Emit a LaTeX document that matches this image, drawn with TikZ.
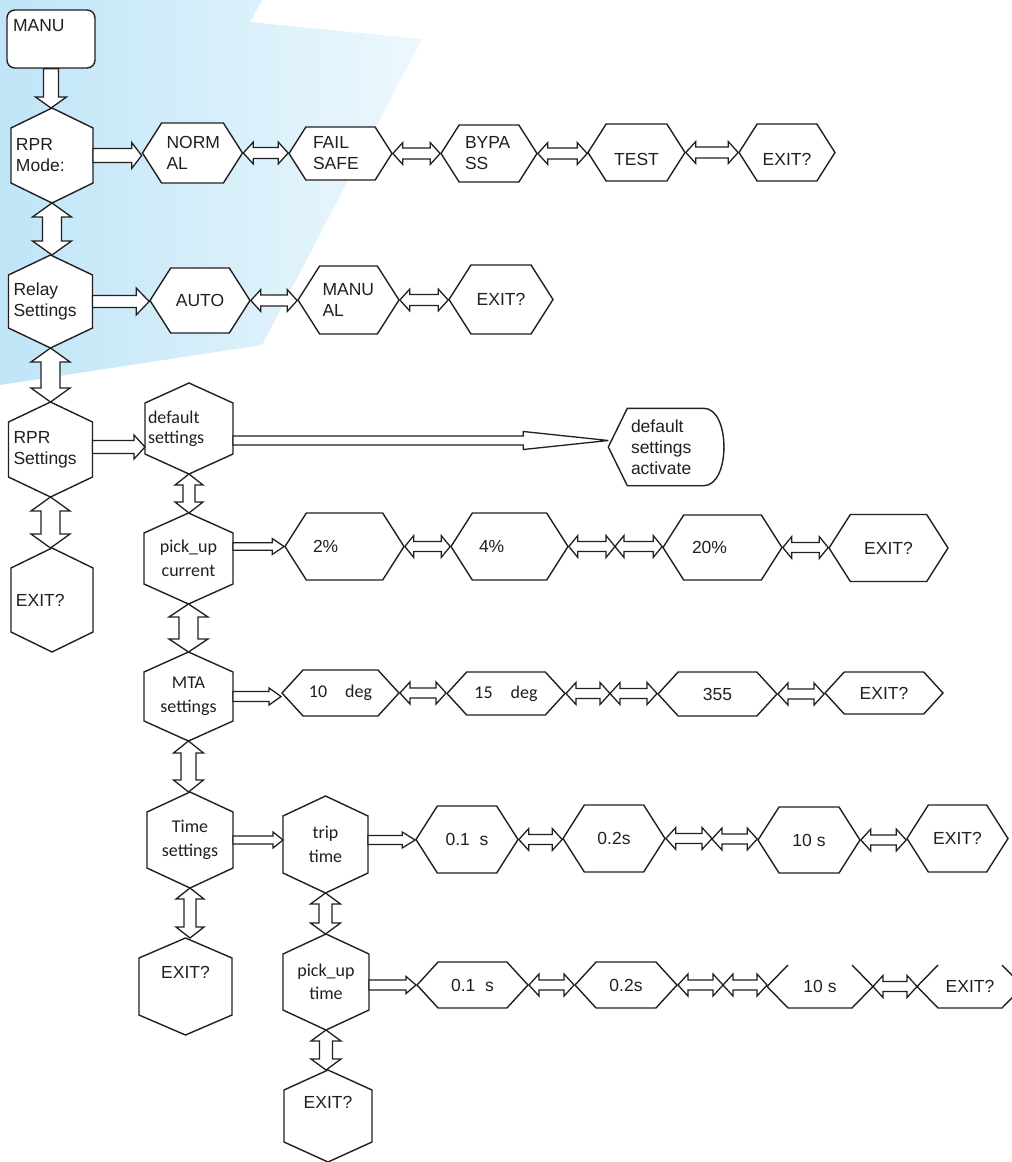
\documentclass[tikz,border=0pt]{standalone}
\usepackage{fontspec}
\setmainfont{Liberation Sans}
\newfontfamily\calibri[Numbers=Lining]{Carlito}
\usepackage{tikz}
\usetikzlibrary{shapes.symbols}
\usetikzlibrary{calc}
\usetikzlibrary{positioning}

\definecolor{inkc}{HTML}{231F20}
\definecolor{skyA}{HTML}{BFE5F7}
\definecolor{skyB}{HTML}{EDF8FD}

% upright hexagon: [options]{name}{x}{y}{width}{height}{text}
\newcommand{\vhex}[7][]{%
  \filldraw[rim, fill=white] (#3,#4-#6/2) -- (#3+#5/2,#4-#6/2+20) -- (#3+#5/2,#4+#6/2-20)
    -- (#3,#4+#6/2) -- (#3-#5/2,#4+#6/2-20) -- (#3-#5/2,#4-#6/2+20) -- cycle;
  \node[vbox, minimum width=#5, minimum height=#6, #1] (#2) at (#3,#4) {#7};}

% block arrows (shaft half width, head half width, head length)
\newcommand{\rarrow}[5]{%
  \draw[conn] let \p1=(#1), \p2=(#2) in
    (\x1,\y1+#3pt) -- (\x2-#5pt,\y1+#3pt) -- (\x2-#5pt,\y1+#4pt) -- (\x2,\y1)
    -- (\x2-#5pt,\y1-#4pt) -- (\x2-#5pt,\y1-#3pt) -- (\x1,\y1-#3pt) -- cycle;}
\newcommand{\harrow}[5]{%
  \draw[conn] let \p1=(#1), \p2=(#2) in
    (\x1,\y1) -- (\x1+#5pt,\y1+#4pt) -- (\x1+#5pt,\y1+#3pt) -- (\x2-#5pt,\y1+#3pt)
    -- (\x2-#5pt,\y1+#4pt) -- (\x2,\y1) -- (\x2-#5pt,\y1-#4pt) -- (\x2-#5pt,\y1-#3pt)
    -- (\x1+#5pt,\y1-#3pt) -- (\x1+#5pt,\y1-#4pt) -- cycle;}
\newcommand{\varrow}[5]{%
  \draw[conn] let \p1=(#1), \p2=(#2) in
    (\x1,\y1) -- (\x1+#4pt,\y1-#5pt) -- (\x1+#3pt,\y1-#5pt) -- (\x1+#3pt,\y2+#5pt)
    -- (\x1+#4pt,\y2+#5pt) -- (\x1,\y2) -- (\x1-#4pt,\y2+#5pt) -- (\x1-#3pt,\y2+#5pt)
    -- (\x1-#3pt,\y1-#5pt) -- (\x1-#4pt,\y1-#5pt) -- cycle;}
\newcommand{\darrow}[5]{%
  \draw[conn] let \p1=(#1), \p2=(#2) in
    (\x1-#3pt,\y1) -- (\x1+#3pt,\y1) -- (\x1+#3pt,\y2+#5pt) -- (\x1+#4pt,\y2+#5pt)
    -- (\x1,\y2) -- (\x1-#4pt,\y2+#5pt) -- (\x1-#3pt,\y2+#5pt) -- cycle;}

\begin{document}
\begin{tikzpicture}[x=1pt, y=-1pt,
    base/.style={draw=inkc, line width=1.4pt, fill=white, inner sep=2pt, text=inkc,
      font=\fontsize{17.5}{21}\selectfont},
    hexh/.style 2 args={base, signal, signal to=west and east,
      signal pointer angle=115, minimum width=#1, minimum height=#2},
    vbox/.style={base, rectangle, draw=none, fill=none, outer sep=0pt},
    flat/.style={signal pointer angle=95},
    low/.style={text height=26pt, text depth=0pt},
    cal/.style={font=\calibri\fontsize{18}{23.5}\selectfont},
    lft/.style={text width=#1, align=left},
    conn/.style={draw=inkc, line width=1.3pt, fill=white, line join=miter, miter limit=4},
    rim/.style={draw=inkc, line width=1.4pt, line join=miter}
  ]
  \useasboundingbox (0,0) rectangle (1012,1162);

  % background
  \shade[left color=skyA, right color=skyB] (0,0) -- (262,0) -- (250,22) -- (422,39)
    -- (262,345) -- (0,385) -- cycle;

  % menu column
  \node[base, rectangle, rounded corners=8pt, minimum width=88, minimum height=58, lft=76] (manu) at (51,39) {MANU\\\strut};
  \vhex[lft=72]{rprm}{52}{155.5}{82}{95}{RPR\\Mode:}
  \vhex[lft=74]{rely}{50.5}{301.5}{84}{93}{Relay\\Settings}
  \vhex[lft=74]{rprs}{50.5}{449.5}{84}{95}{RPR\\Settings}
  \vhex[lft=72]{exa}{52}{600}{82}{104}{EXIT?}

  % settings column
  \vhex[lft=82, font=\calibri\fontsize{18}{20}\selectfont]{dflt}{189}{428.5}{88}{91}{default\\settings}
  \vhex[cal, align=center]{pcur}{188.5}{558.5}{89}{91}{pick\_up\\current}
  \vhex[cal, align=center]{mta}{188.5}{696.5}{89}{89}{MTA\\settings}
  \vhex[cal, align=center]{tset}{190}{840}{86}{96}{Time\\settings}
  \vhex[align=center]{exb}{185.5}{986.5}{93}{97}{EXIT?\\\strut}

  % time column
  \vhex[cal, align=center]{trip}{325.5}{844.5}{85}{97}{trip\\time}
  \vhex[cal, align=center]{ptim}{326}{982}{86}{96}{pick\_up\\time}
  \vhex[align=center]{exc}{328}{1116}{88}{92}{EXIT?\\\strut}

  % RPR mode options
  \node[hexh={100}{60}, lft=52] (norm) at (192.5,153) {NORM\\AL};
  \node[hexh={103}{53}, lft=55] (fail) at (340.5,153.5) {FAIL\\SAFE};
  \node[hexh={96}{57}, lft=48] (bypa) at (489,153.5) {BYPA\\SS};
  \node[hexh={97}{57}, low] (test) at (636.5,152.5) {TEST};
  \node[hexh={96}{57}, low] (exm) at (787,152.5) {EXIT?};

  % relay options
  \node[hexh={100}{65}] (auto) at (200,300.5) {AUTO};
  \node[hexh={101}{68}, lft=52] (manl) at (348.5,300) {MANU\\AL};
  \node[hexh={104}{69}] (exr) at (501,299.5) {EXIT?};

  % default settings
  \node[base, rectangle, draw=none, fill=none, minimum width=114, minimum height=76, lft=70] (act) at (666,447) {default\\settings\\activate};
  \draw[rim] (act.west) -- ($(act.north west)+(19,0)$) -- ($(act.north east)+(-20,0)$)
    .. controls ($(act.north east)+(7,0)$) and ($(act.south east)+(7,0)$) .. ($(act.south east)+(-20,0)$)
    -- ($(act.south west)+(19,0)$) -- cycle;

  % pick up current
  \node[hexh={119}{67}, lft=63] (p2) at (344.5,546.5) {2\%};
  \node[hexh={117}{67}, lft=61] (p4) at (509.5,546.5) {4\%};
  \node[hexh={119}{65}, lft=61] (p20) at (722.5,547.5) {20\%};
  \node[hexh={119}{67}] (pex) at (888.5,548) {EXIT?};
  \coordinate (pmid) at (615,546.5);

  % MTA
  \node[hexh={117}{46}, flat, cal] (d10) at (340.5,693) {10\quad deg};
  \node[hexh={118}{43}, flat, cal] (d15) at (506,693.5) {15\quad deg};
  \node[hexh={119}{44}, flat] (d355) at (717.5,694) {355};
  \node[hexh={118}{42}, flat] (dex) at (884,693) {EXIT?};
  \coordinate (dmid) at (610,693.5);

  % trip time
  \node[hexh={102}{67}] (t01) at (467,839.5) {0.1~~s};
  \node[hexh={102}{67}] (t02) at (614,838.5) {0.2s};
  \node[hexh={102}{66}] (t10) at (809,840) {10 s};
  \node[hexh={101}{67}] (tex) at (957.5,838.5) {EXIT?};
  \coordinate (tmid) at (712,839);

  % pick up time
  \node[hexh={111}{46}, flat] (u01) at (472.5,985) {0.1~~s};
  \node[hexh={102}{46}, flat] (u02) at (626,985) {0.2s};
  \node[hexh={104}{43}, flat, draw=none] (u10) at (820,986.5) {10 s};
  \node[hexh={104}{43}, flat, draw=none] (uex) at (970,986.5) {EXIT?};
  \coordinate (umid) at (723,985);
  \draw[rim] ($(u10)+(-32,-21.5)$) -- (u10.west) -- ($(u10)+(-32,21.5)$) -- ($(u10)+(32,21.5)$)
    -- (u10.east) -- ($(u10)+(32,-21.5)$);
  \draw[rim] ($(uex)+(-32,-21.5)$) -- (uex.west) -- ($(uex)+(-32,21.5)$) -- ($(uex)+(32,21.5)$)
    -- (uex.east) -- ($(uex)+(32,-21.5)$);

  % arrows
  \darrow{manu.south}{rprm.north}{7.5}{15.5}{11}
  \rarrow{rprm.east}{norm.west}{7}{13}{10}
  \harrow{norm.east}{fail.west}{5.5}{11}{10}
  \harrow{fail.east}{bypa.west}{5.5}{11}{10}
  \harrow{bypa.east}{test.west}{5.5}{11}{10}
  \harrow{test.east}{exm.west}{5.5}{11}{10}
  \varrow{rprm.south}{rely.north}{9.5}{19.5}{14}
  \rarrow{rely.east}{auto.west}{6}{13.5}{13}
  \harrow{auto.east}{manl.west}{5.5}{11}{10}
  \harrow{manl.east}{exr.west}{5.5}{11}{10}
  \varrow{rely.south}{rprs.north}{9.5}{19.5}{14}
  \rarrow{[yshift=2.5pt]rprs.east}{dflt.west}{6.5}{12}{11}
  \rarrow{[yshift=-12pt]dflt.east}{act.west}{4.5}{9}{85}
  \varrow{rprs.south}{exa.north}{9.5}{19.5}{14}
  \varrow{dflt.south}{pcur.north}{6}{14}{11}
  \rarrow{[yshift=12pt]pcur.east}{p2.west}{3.7}{8}{12}
  \harrow{p2.east}{p4.west}{5}{11}{9}
  \harrow{p4.east}{pmid}{5}{11}{9}
  \harrow{pmid}{p20.west}{5}{11}{9}
  \harrow{p20.east}{pex.west}{5}{11}{9}
  \varrow{pcur.south}{mta.north}{9.5}{19.5}{13}
  \rarrow{mta.east}{d10.west}{5}{8.5}{12}
  \harrow{d10.east}{d15.west}{5}{11}{10}
  \harrow{d15.east}{dmid}{5}{11}{10}
  \harrow{dmid}{d355.west}{5}{11}{10}
  \harrow{d355.east}{dex.west}{5}{11}{10}
  \varrow{mta.south}{tset.north}{7.5}{15}{12}
  \rarrow{tset.east}{trip.west}{4}{8}{10}
  \rarrow{[yshift=4.5pt]trip.east}{t01.west}{4.5}{8}{13}
  \harrow{t01.east}{t02.west}{5}{11}{10}
  \harrow{t02.east}{tmid}{5}{11}{10}
  \harrow{tmid}{t10.west}{5}{11}{10}
  \harrow{t10.east}{tex.west}{5}{11}{10}
  \varrow{tset.south}{exb.north}{6}{14}{11}
  \varrow{trip.south}{ptim.north}{6.5}{15}{11}
  \rarrow{[yshift=-3pt]ptim.east}{u01.west}{5}{8.5}{10}
  \harrow{u01.east}{u02.west}{5}{11}{10}
  \harrow{u02.east}{umid}{5}{11}{10}
  \harrow{umid}{u10.west}{5}{11}{10}
  \harrow{u10.east}{uex.west}{5}{11}{10}
  \varrow{ptim.south}{exc.north}{6.5}{15}{11}
\end{tikzpicture}
\end{document}
